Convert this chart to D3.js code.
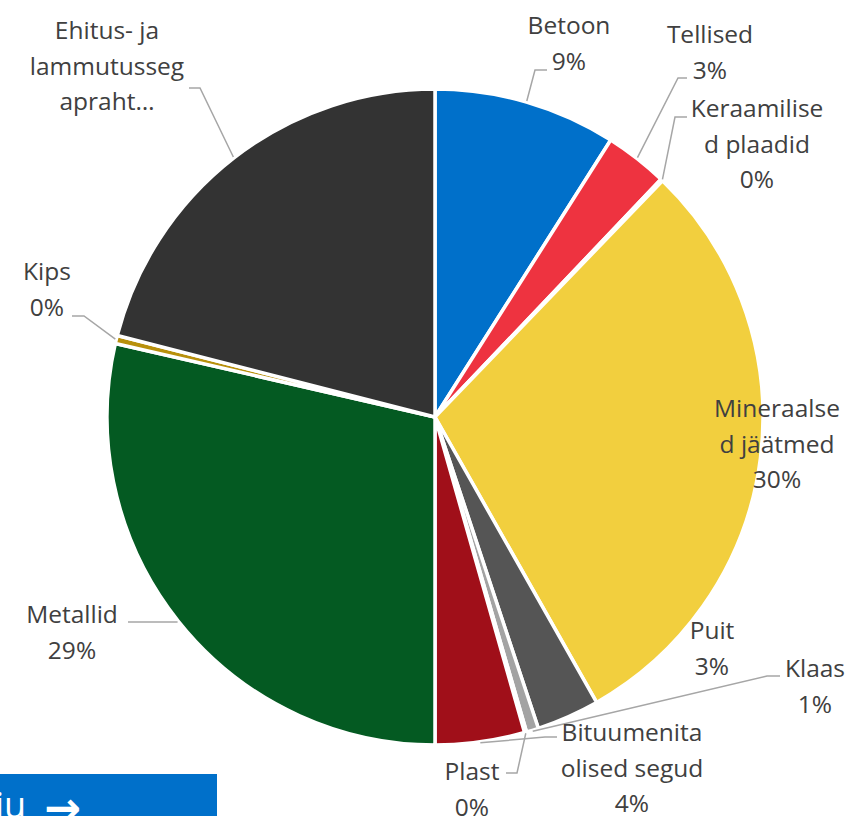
<!DOCTYPE html>
<html>
<head>
<meta charset="utf-8">
<script src="https://cdn.jsdelivr.net/npm/d3@7"></script>
<style>
  html, body { margin: 0; padding: 0; background: #fff; }
  svg { display: block; }
</style>
</head>
<body>
<svg id="chart" width="851" height="816"></svg>
<script>
// ---- data ----
const categories = [
  "Betoon", "Tellised", "Keraamilised plaadid", "Mineraalsed jäätmed", "Puit",
  "Klaas", "Plast", "Bituumenitaolised segud", "Metallid", "Kips",
  "Ehitus- ja lammutusegapraht"
];
const values = [9.0, 3.1, 0.1, 29.6, 3.1, 0.6, 0.1, 4.4, 28.6, 0.4, 21.0];
const percentLabels = ["9%", "3%", "0%", "30%", "3%", "1%", "0%", "4%", "29%", "0%", ""];
// label text lines as shown (wrapped)
const labelLines = [
  ["Betoon", "9%"],
  ["Tellised", "3%"],
  ["Keraamilise", "d plaadid", "0%"],
  ["Mineraalse", "d jäätmed", "30%"],
  ["Puit", "3%"],
  ["Klaas", "1%"],
  ["Plast", "0%"],
  ["Bituumenita", "olised segud", "4%"],
  ["Metallid", "29%"],
  ["Kips", "0%"],
  ["Ehitus- ja", "lammutusseg", "apraht…"]
];
const colors = ["#0070CA", "#EE3340", "#7F7F7F", "#F2CF3E", "#555555",
                "#A3A3A3", "#7A7A7A", "#A00F19", "#045A22", "#B8900C", "#333333"];

// ---- layout (positions of labels and leader elbows) ----
const labelLayout = [
  {x: 569, y: 34,  leader: [[547, 70], [535, 70]]},
  {x: 710, y: 43,  leader: [[687, 78], [678, 78]]},
  {x: 757, y: 117, leader: [[687, 117], [675, 117]]},
  {x: 777, y: 417, leader: null},
  {x: 712, y: 639, leader: null},
  {x: 815, y: 677, leader: [[780, 676], [767, 676]]},
  {x: 472, y: 780, leader: [[506, 773], [517, 773]]},
  {x: 632, y: 741, leader: [[557, 737], [545, 737]]},
  {x: 72,  y: 623, leader: [[128, 622], [142, 622]]},
  {x: 47,  y: 280, leader: [[72, 316], [84, 316]]},
  {x: 107, y: 39,  leader: [[189, 88], [200, 88]]}
];

const W = 851, H = 816;
const cx = 435, cy = 417, R = 328;
const lineH = 35.5;

const svg = d3.select("#chart");

const data = categories.map((c, i) => ({name: c, value: values[i], i}));
const pie = d3.pie().value(d => d.value).sort(null);
const arcs = pie(data);
const arc = d3.arc().innerRadius(0).outerRadius(R);
const edgeArc = d3.arc().innerRadius(R + 1).outerRadius(R + 1);

const g = svg.append("g").attr("transform", `translate(${cx},${cy})`);

g.selectAll("path.slice")
  .data(arcs)
  .enter().append("path")
  .attr("class", "slice")
  .attr("d", arc)
  .attr("fill", d => colors[d.data.i])
  .attr("stroke", "#fff")
  .attr("stroke-width", 3.5)
  .attr("stroke-linejoin", "round");

// leader lines
arcs.forEach((a, i) => {
  const L = labelLayout[i];
  if (!L.leader) return;
  const p = edgeArc.centroid(a);
  const pts = [L.leader[0], L.leader[1], [p[0] + cx, p[1] + cy]];
  svg.append("path")
    .attr("d", d3.line()(pts))
    .attr("fill", "none")
    .attr("stroke", "#A6A6A6")
    .attr("stroke-width", 1.5);
});

// labels
arcs.forEach((a, i) => {
  const L = labelLayout[i];
  const t = svg.append("text")
    .attr("x", L.x)
    .attr("y", L.y)
    .attr("text-anchor", "middle")
    .attr("font-family", "'Open Sans', 'Noto Sans', sans-serif")
    .attr("font-size", 24.5)
    .attr("fill", "#404040");
  labelLines[i].forEach((ln, k) => {
    t.append("tspan").attr("x", L.x).attr("dy", k === 0 ? 0 : lineH).text(ln);
  });
});

// blue button (partially visible)
svg.append("rect")
  .attr("x", 0).attr("y", 774).attr("width", 217).attr("height", 50)
  .attr("fill", "#0070CA");
svg.append("text")
  .attr("x", -5).attr("y", 818)
  .attr("font-family", "'Open Sans', 'Noto Sans', sans-serif")
  .attr("font-size", 36)
  .attr("fill", "#fff")
  .text("iu");
svg.append("text")
  .attr("x", 44).attr("y", 823)
  .attr("font-family", "'DejaVu Sans', sans-serif")
  .attr("font-size", 44)
  .attr("font-weight", "bold")
  .attr("fill", "#fff")
  .text("→");
</script>
</body>
</html>
